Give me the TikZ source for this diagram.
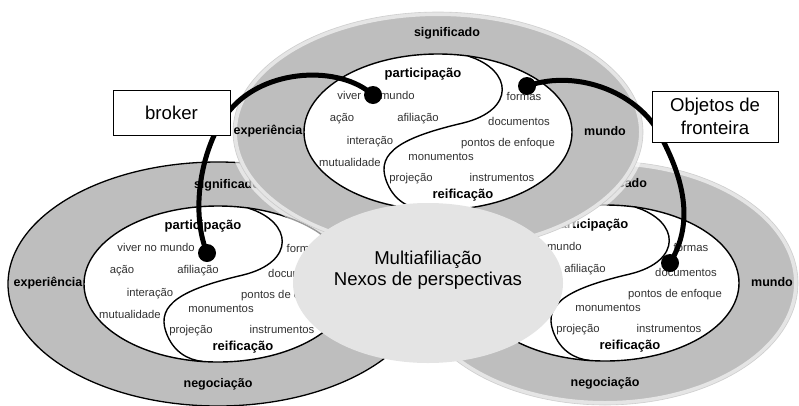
\documentclass[tikz,border=0pt]{standalone}
\usepackage{fontspec}
\setmainfont{Liberation Sans}
\usetikzlibrary{shapes.geometric}

\definecolor{ringgray}{RGB}{190,190,190}
\definecolor{hubgray}{RGB}{228,228,228}
\definecolor{txtgray}{RGB}{50,50,50}

% one practice: ring, yin-yang core and the words every core shows
\newcommand{\practice}[4]{%
  \path[#2] (0,0) ellipse [x radius=#3, y radius=#4];
  \draw[core, fill=white] (0,0) ellipse [x radius=134, y radius=78];
  \draw[core] (30,-76) .. controls (75,-62) and (78,-22) .. (25,-9)
    .. controls (-35,5) and (-62,20) .. (-52,48)
    .. controls (-45,68) and (-30,76) .. (-15,77.5);
  \node[ringlbl] (sig#1) at (9,-99) {significado};
  \node[pole] (par#1) at (-15,-58) {participação};
  \node[pole] (rei#1) at (25,63)   {reificação};
  \node[word] (viv#1) at (-62,-37) {viver no mundo};
  \node[word] (afi#1) at (-20,-13) {afiliação};
  \node[word] (for#1) at (86,-36)  {formas};
  \node[word] (doc#1) at (81,-11)  {documentos};
  \node[word] (pon#1) at (70,12)   {pontos de enfoque};
  \node[word] (mon#1) at (3,25)    {monumentos};
  \node[word] (pro#1) at (-27,47)  {projeção};
  \node[word] (ins#1) at (64,45)   {instrumentos};
}

\begin{document}
\begin{tikzpicture}[x=1pt, y=-1pt,
    core/.style={line width=1.4},
    ringLine/.style={fill=ringgray, draw=black, line width=1.3},
    ringFade/.style={fill=ringgray, draw=white, draw opacity=0.6, line width=8,
                     postaction={draw=gray!55, line width=0.6}},
    ringlbl/.style={font=\bfseries\fontsize{12.5}{14}\selectfont, inner sep=0},
    pole/.style={font=\bfseries\fontsize{13}{15}\selectfont, inner sep=0},
    word/.style={font=\fontsize{11.3}{13}\selectfont, text=txtgray, inner sep=0},
    hub/.style={ellipse, fill=hubgray, minimum width=270, minimum height=160, inner sep=0},
    tag/.style={draw, fill=white, line width=0.8, align=center, inner sep=0,
                font=\fontsize{18.6}{23}\selectfont},
    dot/.style={circle, fill=black, minimum size=18, inner sep=0},
    link/.style={line width=5}]
  \useasboundingbox (0,0) rectangle (799,405);

  % the three practices, back to front
  \begin{scope}[shift={(218,284)}]
    \practice{L}{ringLine}{210}{122}
    \node[ringlbl] (negL) at (0,100)   {negociação};
    \node[ringlbl] (expL) at (-170,-1) {experiência};
    \node[word] (acaL) at (-96,-13) {ação};
    \node[word] (intL) at (-68,10)  {interação};
    \node[word] (mutL) at (-88,30)  {mutualidade};
  \end{scope}
  \begin{scope}[shift={(605,283)}]
    \practice{R}{ringFade}{193}{122}
    \node[ringlbl] (negR) at (0,100)  {negociação};
    \node[ringlbl] (munR) at (167,-1) {mundo};
  \end{scope}
  \begin{scope}[shift={(438,132)}]
    \practice{T}{ringFade}{205}{120}
    \node[ringlbl] (expT) at (-170,-1) {experiência};
    \node[ringlbl] (munT) at (167,-1)  {mundo};
    \node[word] (acaT) at (-96,-13) {ação};
    \node[word] (intT) at (-68,10)  {interação};
    \node[word] (mutT) at (-88,30)  {mutualidade};
  \end{scope}

  % overlap in the middle
  \node[hub] (nexos) at (428,283) {};
  \node[font=\fontsize{18.6}{21}\selectfont, align=center] (nexosTxt)
    at ([yshift=13pt]nexos.center) {Multiafiliação\\Nexos de perspectivas};

  % broker and boundary objects
  \node[dot] (brokerT) at (373,95) {};
  \node[dot] (brokerL) at (207,253) {};
  \node[dot] (objT) at (527,86) {};
  \node[dot] (objR) at (670,263) {};
  \draw[link] (brokerT.center) .. controls (340,65) and (265,68) .. (230,110)
    .. controls (205,138) and (188,205) .. (brokerL.center);
  \draw[link] (objT.center) .. controls (580,68) and (640,95) .. (660,135)
    .. controls (690,190) and (690,230) .. (objR.center);

  \node[tag, minimum width=117, minimum height=45] (broker) at (171.5,112.5) {broker};
  \node[tag, minimum width=126, minimum height=51] (fronteira) at (715,116.5) {Objetos de\\fronteira};
\end{tikzpicture}
\end{document}
